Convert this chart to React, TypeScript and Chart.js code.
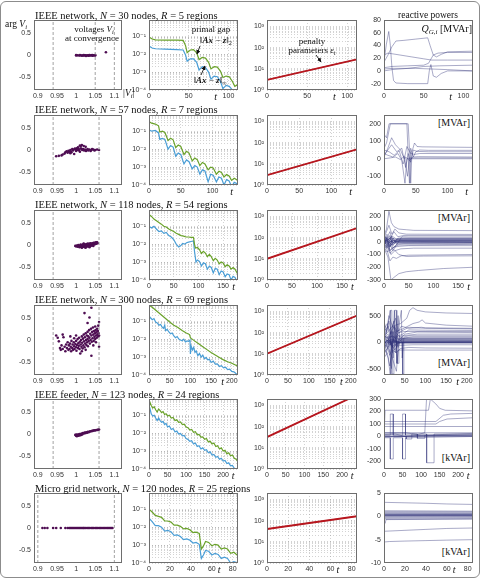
import React, { useEffect, useRef } from "react";
import { Chart, registerables } from "chart.js";

Chart.register(...registerables);

type P = [number, number];

// ---------------- data ----------------
const NETWORK = ["IEEE network", "IEEE network", "IEEE network", "IEEE network", "IEEE feeder", "Micro grid network"];
const NODES = [30, 57, 118, 300, 123, 120];
const REGIONS = [5, 7, 54, 69, 24, 25];
const UNITS = ["[MVAr]", "[MVAr]", "[MVAr]", "[MVAr]", "[kVAr]", "[kVAr]"];

const VOLT_TICKS = [0.9, 0.95, 1, 1.05, 1.1];
const ANGLE_TICKS = [-0.5, 0, 0.5];
const GAP_TICKS = [1e-4, 1e-3, 1e-2, 1e-1];
const PEN_TICKS = [1, 10, 100, 1000];
const T_TICKS = [[0, 50, 100], [0, 50, 100], [0, 50, 100, 150], [0, 50, 100, 150, 200], [0, 50, 100, 150, 200], [0, 20, 40, 60, 80]];
const T_MAX = [112, 140, 180, 215, 240, 85];
const Q_TICKS = [[-20, 0, 20, 40, 60, 80], [-100, 0, 100, 200], [-300, -200, -100, 0, 100, 200], [-500, 0, 500], [-200, -100, 0, 100, 200, 300], [-10, -5, 0, 5]];
const Q_MIN = [-30, -150, -300, -620, -260, -10];
const Q_MAX = [80, 250, 250, 700, 300, 5];
const VOLT_LIMITS = [[0.94, 1.05, 1.1], [0.94, 1.06], [0.94, 1.06], [0.94, 1.06], [0.94, 1.06], [0.9, 1.1]];

// voltages at convergence: [|V|, arg V]
const V1: P[] = [[1.0,-0.01],[1.004,-0.008],[1.008,-0.012],[1.012,-0.006],[1.015,-0.015],[1.018,-0.01],[1.02,-0.004],[1.022,-0.012],[1.025,-0.008],[1.027,-0.016],[1.03,-0.006],[1.032,-0.01],[1.035,-0.004],[1.038,-0.012],[1.04,-0.007],[1.042,-0.002],[1.045,-0.009],[1.048,-0.005],[1.05,0.0],[1.05,-0.01],[1.02,0.0],[1.026,-0.02],[1.01,-0.003],[1.033,-0.018],[1.043,-0.014],[1.0,0.0],[1.078,0.06],[1.035,0.0]];
const V2: P[] = [[0.948,-0.14],[0.955,-0.13],[0.962,-0.12],[0.965,-0.1],[0.97,-0.08],[0.972,-0.05],[0.975,-0.03],[0.978,-0.06],[0.98,-0.02],[0.982,-0.04],[0.985,0.0],[0.986,-0.03],[0.988,-0.05],[0.99,0.02],[0.992,-0.01],[0.994,0.01],[0.995,-0.09],[0.997,0.03],[1.0,-0.02],[1.0,0.01],[1.002,0.04],[1.004,0.0],[1.005,0.06],[1.007,0.02],[1.008,-0.01],[1.01,0.1],[1.012,0.08],[1.013,0.03],[1.015,0.11],[1.016,0.0],[1.018,0.02],[1.02,0.09],[1.021,-0.01],[1.023,0.01],[1.025,0.07],[1.026,-0.02],[1.028,0.0],[1.03,0.02],[1.032,-0.01],[1.035,0.01],[1.038,-0.02],[1.04,0.0],[1.042,0.02],[1.045,0.01],[1.048,-0.01],[1.05,0.0],[1.055,0.01],[1.06,0.0],[0.985,-0.07],[1.01,-0.04]];
const V3: P[] = [[0.998,-0.02],[1.0,-0.03],[1.002,-0.01],[1.004,-0.04],[1.005,-0.02],[1.006,0.0],[1.008,-0.03],[1.009,-0.05],[1.01,-0.01],[1.011,-0.03],[1.012,0.01],[1.013,-0.04],[1.014,-0.02],[1.015,0.0],[1.016,-0.05],[1.017,-0.03],[1.018,-0.01],[1.019,0.02],[1.02,-0.04],[1.021,-0.02],[1.022,0.0],[1.023,-0.05],[1.024,0.01],[1.025,-0.03],[1.026,-0.01],[1.027,0.02],[1.028,-0.04],[1.029,0.0],[1.03,-0.02],[1.031,0.03],[1.032,-0.01],[1.033,0.01],[1.034,-0.03],[1.035,0.02],[1.036,0.0],[1.037,0.04],[1.038,-0.02],[1.039,0.01],[1.04,0.03],[1.041,-0.01],[1.042,0.02],[1.043,0.04],[1.044,0.0],[1.045,0.03],[1.046,0.05],[1.047,0.01],[1.048,0.03],[1.049,0.05],[1.05,0.02],[1.051,0.04],[1.052,0.06],[1.053,0.03],[1.054,0.05],[1.055,0.06],[1.056,0.04],[1.035,-0.05],[1.025,-0.06],[1.015,-0.06],[1.045,-0.02],[1.02,0.03]];
const V4: P[] = [[0.948,0.1],[0.952,0.05],[0.955,-0.03],[0.958,-0.18],[0.96,-0.22],[0.962,-0.12],[0.965,-0.2],[0.967,0.06],[0.97,-0.15],[0.972,-0.25],[0.974,-0.1],[0.976,-0.18],[0.978,-0.05],[0.98,-0.22],[0.981,-0.12],[0.983,-0.2],[0.984,-0.08],[0.986,-0.15],[0.987,-0.25],[0.988,-0.02],[0.99,-0.18],[0.991,-0.1],[0.992,-0.22],[0.994,-0.05],[0.995,-0.14],[0.996,-0.2],[0.998,-0.09],[1.0,-0.16],[1.0,-0.02],[1.001,-0.24],[1.002,-0.11],[1.004,0.02],[1.005,-0.18],[1.006,-0.07],[1.007,-0.13],[1.008,0.05],[1.009,-0.2],[1.01,-0.04],[1.011,-0.3],[1.012,-0.1],[1.013,0.0],[1.014,-0.15],[1.015,0.08],[1.016,-0.06],[1.017,-0.19],[1.018,0.03],[1.019,-0.12],[1.02,0.12],[1.021,-0.03],[1.022,-0.16],[1.023,0.06],[1.024,-0.08],[1.025,0.15],[1.026,0.0],[1.027,-0.11],[1.028,0.1],[1.029,-0.05],[1.03,0.18],[1.03,0.02],[1.031,-0.14],[1.032,0.08],[1.033,-0.02],[1.034,0.22],[1.035,0.05],[1.036,-0.08],[1.037,0.14],[1.038,0.0],[1.039,0.25],[1.04,0.1],[1.04,-0.35],[1.041,-0.04],[1.042,0.18],[1.043,0.04],[1.044,0.28],[1.045,0.12],[1.046,-0.02],[1.047,0.2],[1.048,0.07],[1.049,0.15],[1.05,0.3],[1.05,0.02],[1.051,0.22],[1.052,0.1],[1.053,0.17],[1.054,0.05],[1.055,0.25],[1.056,0.12],[1.057,0.2],[1.058,0.08],[1.059,0.15],[1.06,0.4],[1.06,0.1],[1.06,-0.15],[1.058,0.32],[1.04,0.72],[1.022,0.6],[1.035,0.5],[1.03,0.38],[0.965,0.12],[0.985,0.08],[1.0,0.1],[1.015,-0.25],[1.025,-0.22],[0.995,0.04],[1.045,-0.12],[1.052,-0.05]];
const V5: P[] = [[0.998,-0.02],[1.0,-0.04],[1.001,-0.01],[1.002,-0.05],[1.003,-0.03],[1.004,-0.02],[1.005,-0.04],[1.006,-0.01],[1.007,-0.03],[1.008,-0.02],[1.009,0.0],[1.01,-0.03],[1.011,-0.01],[1.012,0.0],[1.013,-0.02],[1.015,0.01],[1.016,-0.01],[1.018,0.02],[1.02,0.01],[1.021,0.02],[1.023,0.03],[1.025,0.02],[1.027,0.04],[1.029,0.03],[1.031,0.05],[1.033,0.04],[1.035,0.05],[1.037,0.06],[1.04,0.06],[1.042,0.07],[1.044,0.07],[1.047,0.08],[1.05,0.08],[1.053,0.09],[1.056,0.09],[1.058,0.1],[1.06,0.1]];
const V6: P[] = [[0.912,0],[0.918,0],[0.925,0],[0.94,0],[0.948,0],[0.96,0],[0.972,0],[0.978,0],[0.982,0],[0.985,0],[0.988,0],[0.991,0],[0.994,0],[0.997,0],[1.0,0],[1.003,0],[1.006,0],[1.009,0],[1.012,0],[1.015,0],[1.018,0],[1.02,0],[1.023,0],[1.026,0],[1.03,0],[1.033,0],[1.036,0],[1.04,0],[1.043,0],[1.046,0],[1.05,0],[1.053,0],[1.056,0],[1.06,0],[1.063,0],[1.066,0],[1.07,0],[1.073,0],[1.076,0],[1.08,0],[1.083,0],[1.086,0],[1.089,0],[1.092,0],[1.095,0]];
const VOLTS = [V1, V2, V3, V4, V5, V6];

// primal gap ||Ax - z||_2 (green) and ||Ax - z||_inf (blue)
const G1: P[] = [[0,0.09],[4,0.07],[8,0.062],[20,0.06],[35,0.06],[43,0.058],[46,0.03],[48,0.012],[52,0.017],[56,0.018],[60,0.012],[63,0.005],[67,0.0065],[71,0.006],[75,0.0035],[78,0.0015],[82,0.002],[86,0.0019],[90,0.0011],[93,0.0005],[97,0.0006],[101,0.00055],[105,0.0003],[108,0.00016],[112,0.0002]];
const B1: P[] = [[0,0.028],[4,0.022],[8,0.02],[20,0.019],[35,0.018],[43,0.017],[46,0.009],[48,0.004],[52,0.0055],[56,0.0055],[60,0.0035],[63,0.0013],[67,0.002],[71,0.0018],[75,0.001],[78,0.0004],[82,0.0006],[86,0.00055],[90,0.0003],[93,0.00012],[97,0.00018],[101,0.00016],[105,0.0001],[108,0.00005],[112,0.00007]];
const G2: P[] = [[0,0.35],[4,0.28],[10,0.25],[15,0.2],[17,0.09],[21,0.1],[25,0.085],[30,0.03],[34,0.04],[38,0.033],[42,0.012],[46,0.017],[50,0.014],[55,0.005],[59,0.0075],[63,0.006],[68,0.0022],[72,0.0032],[76,0.0026],[80,0.0012],[84,0.0018],[88,0.0015],[93,0.0007],[97,0.001],[101,0.0009],[106,0.0004],[110,0.00058],[114,0.0005],[118,0.00028],[122,0.00038],[126,0.00032],[130,0.00018],[134,0.00024],[138,0.0002],[140,0.00016]];
const B2: P[] = [[0,0.12],[4,0.1],[10,0.11],[15,0.08],[17,0.035],[21,0.04],[25,0.035],[30,0.01],[34,0.016],[38,0.013],[42,0.004],[46,0.006],[50,0.005],[55,0.0015],[59,0.0025],[63,0.002],[68,0.0008],[72,0.0012],[76,0.001],[80,0.0004],[84,0.0007],[88,0.0006],[93,0.00015],[97,0.0004],[101,0.00035],[106,0.00015],[110,0.00028],[114,0.00024],[118,0.0001],[122,0.0002],[126,0.00017],[130,0.00008],[134,0.00014],[138,0.00012],[140,0.0001]];
const G3: P[] = [[0,0.45],[5,0.35],[10,0.25],[15,0.2],[20,0.16],[25,0.13],[30,0.1],[35,0.09],[40,0.07],[45,0.06],[50,0.05],[55,0.04],[60,0.035],[65,0.03],[70,0.028],[75,0.025],[80,0.025],[85,0.024],[90,0.024],[92,0.01],[94,0.006],[98,0.0065],[102,0.005],[106,0.003],[110,0.004],[114,0.0032],[118,0.002],[122,0.0027],[126,0.002],[130,0.0012],[134,0.0016],[138,0.0013],[142,0.0008],[146,0.001],[150,0.0009],[154,0.00055],[158,0.0007],[162,0.0006],[166,0.0004],[170,0.0005],[174,0.0004],[178,0.00025],[180,0.0003]];
const B3: P[] = [[0,0.1],[5,0.08],[10,0.1],[15,0.07],[20,0.05],[25,0.055],[30,0.04],[35,0.045],[40,0.03],[45,0.025],[50,0.018],[55,0.01],[60,0.007],[64,0.008],[68,0.011],[72,0.01],[76,0.012],[80,0.013],[85,0.014],[90,0.015],[92,0.004],[95,0.001],[98,0.0013],[102,0.0011],[106,0.0006],[110,0.0009],[114,0.0008],[118,0.0004],[122,0.0006],[126,0.0005],[130,0.00025],[134,0.00045],[138,0.0004],[142,0.0002],[146,0.00032],[150,0.00028],[154,0.00015],[158,0.00022],[162,0.0002],[166,0.0001],[170,0.00016],[174,0.00014],[178,0.00008],[180,0.0001]];
const G4: P[] = [[0,0.8],[10,0.55],[20,0.35],[30,0.22],[40,0.14],[50,0.09],[60,0.06],[70,0.045],[80,0.03],[90,0.022],[98,0.018],[100,0.012],[102,0.011],[110,0.008],[120,0.0055],[130,0.0038],[140,0.0026],[150,0.0018],[160,0.0013],[170,0.00095],[180,0.0007],[190,0.00055],[200,0.00045],[210,0.00035],[215,0.0003]];
const B4: P[] = [[0,0.2],[4,0.15],[8,0.12],[12,0.14],[16,0.09],[20,0.08],[24,0.06],[28,0.065],[32,0.045],[35,0.04],[38,0.06],[40,0.03],[44,0.035],[48,0.025],[52,0.02],[56,0.022],[60,0.015],[64,0.012],[68,0.014],[72,0.01],[76,0.009],[80,0.008],[84,0.01],[88,0.007],[92,0.008],[96,0.0075],[99,0.009],[100,0.0015],[102,0.004],[105,0.0025],[108,0.0035],[111,0.0018],[114,0.0022],[118,0.0012],[122,0.0016],[126,0.001],[130,0.0013],[134,0.0008],[138,0.00095],[142,0.0007],[146,0.00075],[150,0.0005],[155,0.0006],[160,0.0004],[165,0.00042],[170,0.0003],[175,0.00033],[180,0.00025],[185,0.00027],[190,0.0002],[195,0.00021],[200,0.00016],[205,0.00015],[210,0.00012],[215,0.0001]];
const G5: P[] = [[0,0.3],[3,0.5],[6,0.35],[10,0.25],[14,0.3],[18,0.2],[22,0.15],[26,0.22],[30,0.18],[34,0.14],[38,0.16],[42,0.11],[46,0.12],[50,0.09],[55,0.1],[60,0.07],[65,0.075],[70,0.05],[75,0.055],[80,0.04],[85,0.042],[90,0.03],[95,0.032],[100,0.022],[105,0.02],[110,0.015],[115,0.016],[120,0.011],[125,0.012],[130,0.008],[135,0.0085],[140,0.006],[145,0.0062],[150,0.0045],[155,0.005],[160,0.0032],[165,0.0035],[170,0.0025],[175,0.0028],[180,0.0018],[185,0.002],[190,0.0013],[195,0.0015],[200,0.001],[205,0.0011],[210,0.0007],[215,0.0008],[220,0.00055],[225,0.0006],[230,0.0004],[235,0.00035],[240,0.00025]];
const B5: P[] = [[0,0.15],[3,0.22],[6,0.12],[10,0.09],[14,0.1],[18,0.07],[22,0.05],[26,0.07],[30,0.05],[34,0.04],[38,0.045],[42,0.03],[46,0.035],[50,0.022],[55,0.025],[60,0.016],[65,0.018],[70,0.012],[75,0.013],[80,0.009],[85,0.0095],[90,0.007],[95,0.0075],[100,0.005],[105,0.0045],[110,0.0035],[115,0.0038],[120,0.0025],[125,0.0028],[130,0.0018],[135,0.002],[140,0.0013],[145,0.0015],[150,0.0011],[155,0.0012],[160,0.0008],[165,0.0009],[170,0.0006],[175,0.00065],[180,0.00045],[185,0.0005],[190,0.00035],[195,0.0004],[200,0.00028],[205,0.0003],[210,0.0002],[215,0.00022],[220,0.00015],[225,0.00016],[230,0.00011],[235,0.0001],[240,0.00008]];
const G6: P[] = [[0,0.1],[3,0.07],[6,0.045],[9,0.04],[12,0.035],[15,0.022],[18,0.022],[21,0.019],[24,0.013],[27,0.013],[30,0.011],[33,0.008],[36,0.0085],[39,0.0072],[42,0.005],[45,0.0052],[48,0.0045],[50,0.0006],[52,0.0009],[54,0.0016],[57,0.0014],[60,0.0009],[63,0.0011],[66,0.001],[69,0.0006],[72,0.0007],[75,0.0006],[78,0.00035],[81,0.0004],[85,0.00025]];
const B6: P[] = [[0,0.032],[3,0.02],[6,0.012],[9,0.012],[12,0.01],[15,0.006],[18,0.0065],[21,0.0055],[24,0.0035],[27,0.0037],[30,0.003],[33,0.002],[36,0.0022],[39,0.0019],[42,0.0013],[45,0.0014],[48,0.0011],[50,0.00018],[52,0.00028],[54,0.0005],[57,0.00045],[60,0.00028],[63,0.00034],[66,0.0003],[69,0.00018],[72,0.00021],[75,0.00018],[78,0.0001],[81,0.00012],[85,0.0001]];
const GAP2 = [G1, G2, G3, G4, G5, G6];
const GAPINF = [B1, B2, B3, B4, B5, B6];

// penalty parameters eps_t
const E1: P[] = [[0,3],[112,28]];
const E2: P[] = [[0,2.9],[140,48]];
const E3: P[] = [[0,10],[180,280]];
const E4: P[] = [[0,10],[215,630]];
const E5: P[] = [[0,32],[235,2800]];
const E6: P[] = [[0,40],[85,160]];
const PENALTY = [E1, E2, E3, E4, E5, E6];

// reactive powers Q_G,i
const Q1: P[][] = [
  [[0,15],[3,42],[6,62],[8,40],[10,5],[12,-15],[15,-19],[30,-20],[55,-20],[57,0],[59,10],[62,-8],[66,-10],[72,-4],[80,0],[112,0]],
  [[0,14],[5,25],[10,38],[15,47],[25,48],[40,50],[55,52],[58,40],[62,25],[66,22],[72,26],[80,30],[112,31]],
  [[0,25],[5,28],[10,27],[20,25],[35,22],[50,19],[60,17],[80,17],[112,17]],
  [[0,5],[10,7],[30,8],[50,9],[56,12],[62,25],[68,28],[80,29],[112,29]],
  [[0,0],[10,2],[30,4],[50,7],[70,8],[112,9]],
  [[0,3],[10,4],[40,4],[60,3],[80,2],[112,0]],
];
const Q2: P[][] = [
  [[0,140],[4,120],[8,200],[38,200],[40,60],[42,-140],[44,40],[48,90],[52,70],[60,68],[140,65]],
  [[0,60],[4,90],[10,200],[36,200],[38,20],[40,-140],[42,60],[46,10],[50,40],[56,50],[70,48],[140,48]],
  [[0,20],[6,50],[12,80],[20,40],[28,60],[34,-50],[38,30],[42,-20],[46,50],[52,42],[70,40],[140,40]],
  [[0,10],[6,60],[12,120],[18,80],[26,50],[32,0],[36,70],[42,30],[48,25],[56,30],[140,30]],
  [[0,50],[8,40],[16,20],[24,45],[30,-30],[34,10],[40,-10],[46,10],[54,12],[140,10]],
  [[0,30],[6,20],[14,10],[22,30],[28,-10],[33,-140],[36,0],[42,5],[50,5],[140,5]],
  [[0,0],[10,5],[18,10],[26,-5],[32,15],[37,-100],[40,0],[48,0],[140,0]],
];
const Q3: P[][] = [
  [[0,50],[5,100],[10,240],[15,150],[20,120],[30,100],[45,95],[60,90],[180,88]],
  [[0,-50],[8,-120],[14,-300],[20,-280],[30,-250],[45,-235],[70,-225],[120,-210],[180,-200]],
  [[0,0],[6,-60],[12,-150],[18,-120],[25,-130],[35,-110],[50,-105],[180,-100]],
  [[0,20],[6,-30],[12,-90],[20,-60],[30,-100],[45,-115],[80,-112],[180,-110]],
  [[0,30],[5,80],[10,130],[16,60],[22,100],[30,70],[45,60],[180,58]],
  [[0,10],[6,60],[12,20],[20,80],[28,40],[40,50],[180,50]],
  [[0,-20],[6,40],[12,-40],[18,30],[26,-20],[36,40],[50,38],[180,38]],
  [[0,60],[5,20],[10,-20],[15,40],[22,10],[30,30],[180,30]],
  [[0,-10],[6,30],[12,80],[18,-10],[26,20],[40,22],[180,22]],
  [[0,40],[6,0],[12,50],[18,-30],[26,15],[40,15],[180,15]],
  [[0,-30],[5,10],[10,-60],[16,20],[24,0],[34,10],[180,10]],
  [[0,0],[6,-20],[12,30],[18,-10],[26,5],[180,5]],
  [[0,15],[6,-10],[12,-40],[20,0],[30,2],[180,0]],
  [[0,-5],[5,20],[10,0],[16,-25],[24,-5],[180,-3]],
  [[0,25],[6,-40],[12,10],[18,-50],[28,-10],[180,-8]],
  [[0,-15],[6,-50],[12,-20],[18,-70],[26,-20],[40,-15],[180,-15]],
  [[0,5],[6,30],[12,-70],[20,-40],[30,-25],[180,-20]],
  [[0,-40],[6,-80],[14,-60],[22,-40],[32,-35],[50,-30],[180,-30]],
  [[0,-60],[8,-20],[14,-100],[22,-70],[34,-55],[60,-50],[180,-50]],
  [[0,10],[4,5],[8,20],[14,0],[20,12],[180,12]],
  [[0,20],[5,40],[10,10],[16,30],[24,20],[180,20]],
  [[0,-10],[6,10],[12,-15],[18,5],[180,-2]],
  [[0,35],[8,15],[16,45],[24,25],[180,25]],
  [[0,0],[4,15],[10,-5],[16,8],[180,6]],
  [[0,-25],[6,0],[12,-30],[18,-8],[180,-6]],
];
const Q4: P[][] = [
  [[0,100],[10,200],[20,300],[40,350],[55,450],[62,600],[70,650],[80,600],[100,570],[150,550],[215,540]],
  [[0,50],[8,250],[15,600],[17,-600],[20,300],[30,200],[45,250],[70,350],[85,380],[92,420],[100,360],[150,320],[215,300]],
  [[0,200],[10,300],[20,-200],[25,600],[28,100],[40,200],[60,280],[100,260],[215,250]],
  [[0,-100],[10,-300],[15,-600],[18,0],[30,100],[45,150],[60,230],[100,225],[215,220]],
  [[0,300],[5,150],[12,400],[20,100],[30,-100],[34,500],[38,50],[50,150],[80,190],[215,180]],
  [[0,0],[10,100],[20,-100],[26,300],[32,-400],[36,100],[45,120],[80,150],[215,150]],
  [[0,150],[8,0],[16,200],[22,-300],[27,200],[40,80],[60,120],[215,120]],
  [[0,-50],[10,50],[18,-500],[22,200],[30,0],[42,600],[44,-300],[48,80],[70,100],[215,100]],
  [[0,100],[6,-200],[14,100],[24,400],[29,-50],[36,60],[60,80],[215,80]],
  [[0,0],[12,-100],[20,200],[28,-200],[33,0],[45,60],[215,60]],
  [[0,50],[8,100],[16,-50],[25,100],[34,-100],[40,40],[215,40]],
  [[0,-150],[6,-50],[14,-250],[22,0],[30,100],[40,20],[215,20]],
  [[0,20],[10,-50],[20,50],[30,-20],[38,0],[215,0]],
  [[0,80],[10,150],[18,-20],[24,50],[32,-30],[42,10],[215,10]],
  [[0,-20],[8,-100],[16,-30],[26,-150],[35,-20],[215,-20]],
  [[0,0],[12,50],[22,-100],[30,-50],[40,-60],[70,-50],[215,-50]],
  [[0,-300],[8,-200],[14,-450],[20,-150],[30,-200],[40,-120],[60,-100],[100,-110],[215,-115]],
  [[0,-200],[10,-100],[20,-300],[30,-550],[34,-150],[45,-150],[215,-150]],
  [[0,400],[6,200],[12,500],[20,300],[28,450],[34,200],[42,300],[60,260],[90,280],[100,270],[215,260]],
  [[0,250],[8,350],[16,150],[24,300],[34,180],[50,200],[215,200]],
  [[0,30],[6,-30],[12,30],[18,-40],[26,30],[36,-10],[215,-5]],
  [[0,60],[10,20],[20,60],[30,10],[40,30],[215,30]],
  [[0,-80],[10,-20],[20,-80],[30,-30],[40,-10],[215,-10]],
  [[0,120],[10,60],[20,120],[30,60],[50,70],[215,70]],
  [[0,-40],[8,40],[16,-40],[28,20],[40,5],[215,5]],
  [[0,10],[10,-10],[20,15],[30,-5],[215,0]],
  [[0,0],[15,0],[16,600],[19,600],[20,-600],[23,-600],[24,0],[44,0],[45,-600],[47,-600],[48,0],[215,0]],
  [[0,100],[25,100],[26,600],[30,600],[31,-400],[35,-400],[36,50],[215,45]],
];
const Q5: P[][] = [
  [[0,0],[3,210],[120,210],[125,300]],
  [[0,30],[110,30],[115,320],[125,300],[140,260],[150,225],[165,210],[240,205]],
  [[0,100],[140,100],[150,120],[170,140],[240,150]],
  [[0,120],[140,120],[160,170],[180,180],[240,185]],
  [[0,80],[240,80]],
  [[0,10],[17,10],[17,180],[25,180],[25,10],[50,10],[50,180],[58,180],[58,10],[240,10]],
  [[0,-10],[17,-10],[17,-180],[25,-180],[25,-10],[50,-10],[50,-180],[58,-180],[58,-10],[240,0]],
  [[0,20],[115,20],[115,-210],[135,-210],[135,20],[240,20]],
  [[0,5],[240,5]],
  [[0,30],[60,30],[70,25],[90,15],[110,30],[240,30]],
  [[0,-5],[240,15]],
  [[0,15],[30,20],[60,0],[100,10],[240,25]],
  [[0,0],[240,0]],
  [[0,0],[60,0],[60,-20],[75,-20],[75,20],[90,20],[90,-15],[110,-15],[110,10],[240,10]],
];
const Q6: P[][] = [
  [[0,3],[20,2.9],[40,2.8],[60,2.65],[85,2.55]],
  [[0,-3.2],[20,-3],[40,-2.8],[60,-2.6],[85,-2.5]],
  [[0,-5.5],[5,-5.4],[20,-5.3],[40,-5.2],[60,-5.1],[85,-5.0]],
  [[0,1.2],[85,1.1]],
  [[0,1],[85,0.95]],
  [[0,0.8],[85,0.75]],
  [[0,0.6],[85,0.6]],
  [[0,0.45],[85,0.45]],
  [[0,0.3],[85,0.3]],
  [[0,0.2],[85,0.2]],
  [[0,0.1],[85,0.12]],
  [[0,0],[85,0.05]],
  [[0,-0.2],[85,-0.1]],
  [[0,-0.4],[85,-0.3]],
  [[0,-0.6],[85,-0.5]],
  [[0,-0.8],[1,-1.5],[2,-0.7],[85,-0.6]],
  [[0,0.35],[85,0.35]],
  [[0,0.25],[85,0.28]],
];
const QPOW = [Q1, Q2, Q3, Q4, Q5, Q6];

// ---------------- layout & style ----------------
const ROW_TOP = [20, 115, 210, 305, 399, 493];
const PLOT_H = 70;
const COL_LEFT = [34, 149, 267, 384];
const COL_W = [88, 89, 90, 89];
const TITLE_Y = [15, 109, 204, 299, 394, 488];
const T_LABEL_AT = [84, 130, 171, 178, 227, 67];
const UNIT_Y = [0, 123, 218, 363, 458, 552];

const YW = 30, PT = 6, PR = 10, XH = 14;
const TICK_FONT = { family: "'Liberation Sans', 'DejaVu Sans', sans-serif", size: 7 };
const SERIF = "'Liberation Serif', 'DejaVu Serif', serif";
const AXIS_COLOR = "#6e6e6e";
const GRID_COLOR = "rgba(140,140,140,0.55)";
const GREEN = "#6aa22a";
const BLUE = "#4a9ed6";
const PURPLE = "#4e0d52";
const RED = "#b8161e";
const QCOL = "rgba(42,46,118,0.5)";

const SUPS: Record<string, string> = { "-": "⁻", "0": "⁰", "1": "¹", "2": "²", "3": "³", "4": "⁴", "5": "⁵", "6": "⁶", "7": "⁷", "8": "⁸", "9": "⁹" };
const pow10 = (v: number) => "10" + String(Math.round(Math.log10(v))).split("").map((c) => SUPS[c]).join("");
const fmt = (v: number) => String(v);

function withMinors(majors: number[], max: number) {
  const out: number[] = [];
  majors.forEach((m) => {
    for (let k = 1; k <= 9; k++) {
      const v = m * k;
      if (v <= max * 1.0001) out.push(v);
    }
  });
  return out;
}

function scale(axis: "x" | "y", type: string, min: number, max: number, ticks: number[], labels: (v: number) => string, grid: boolean) {
  return {
    type,
    min,
    max,
    afterBuildTicks: (s: any) => {
      s.ticks = ticks.map((v) => ({ value: v }));
    },
    afterFit: (s: any) => {
      if (axis === "x") s.height = XH;
      else s.width = YW;
      s.paddingLeft = 0;
      s.paddingRight = 0;
      s.paddingTop = 0;
      s.paddingBottom = 0;
    },
    ticks: {
      font: TICK_FONT,
      color: "#333",
      padding: axis === "x" ? 2 : 3,
      autoSkip: false,
      maxRotation: 0,
      minRotation: 0,
      callback: (v: any) => labels(Number(v)),
    },
    grid: { display: grid, drawOnChartArea: true, drawTicks: false, color: GRID_COLOR, lineWidth: 0.7 },
    border: { display: false, dash: [1, 2] },
  };
}

const boxPlugin = {
  id: "box",
  afterDatasetsDraw(chart: any) {
    const { ctx, chartArea: a } = chart;
    ctx.save();
    ctx.strokeStyle = AXIS_COLOR;
    ctx.lineWidth = 1;
    ctx.strokeRect(Math.round(a.left) + 0.5, Math.round(a.top) + 0.5, Math.round(a.right - a.left) - 1, Math.round(a.bottom - a.top) - 1);
    ctx.restore();
  },
};

function baseOptions(xs: any, ys: any) {
  return {
    animation: false,
    responsive: false,
    events: [],
    layout: { padding: { top: PT, right: PR, left: 0, bottom: 0 } },
    plugins: { legend: { display: false }, tooltip: { enabled: false } },
    scales: { x: xs, y: ys },
  };
}

const toXY = (a: P[]) => a.map(([x, y]) => ({ x, y }));

function voltCfg(r: number): any {
  const ds: any[] = VOLT_LIMITS[r].map((v) => ({
    type: "line",
    data: [{ x: v, y: -0.78 }, { x: v, y: 0.78 }],
    borderColor: "#8a8a8a",
    borderWidth: 0.8,
    borderDash: [3, 2],
    pointRadius: 0,
    showLine: true,
  }));
  ds.push({ type: "scatter", data: toXY(VOLTS[r]), pointRadius: 1.3, pointBackgroundColor: PURPLE, pointBorderWidth: 0, backgroundColor: PURPLE });
  return {
    type: "scatter",
    data: { datasets: ds },
    options: baseOptions(scale("x", "linear", 0.89, 1.12, VOLT_TICKS, fmt, false), scale("y", "linear", -0.78, 0.78, ANGLE_TICKS, fmt, false)),
    plugins: [boxPlugin],
  };
}

function gapCfg(r: number): any {
  const yt = withMinors(GAP_TICKS, 0.8);
  return {
    type: "line",
    data: {
      datasets: [
        { data: toXY(GAP2[r]), borderColor: GREEN, borderWidth: 1.2, pointRadius: 0, tension: 0 },
        { data: toXY(GAPINF[r]), borderColor: BLUE, borderWidth: 1.2, pointRadius: 0, tension: 0 },
      ],
    },
    options: baseOptions(
      scale("x", "linear", 0, T_MAX[r], T_TICKS[r], fmt, true),
      scale("y", "logarithmic", 1e-4, 0.8, yt, (v) => (GAP_TICKS.includes(v) ? pow10(v) : ""), true)
    ),
    plugins: [boxPlugin],
  };
}

function penCfg(r: number): any {
  const yt = withMinors(PEN_TICKS, 2000);
  return {
    type: "line",
    data: {
      datasets: [
        { data: toXY(PENALTY[r]), borderColor: RED, borderWidth: 1.8, pointRadius: 0 },
        { data: toXY(PENALTY[r]), borderColor: "#3a0808", borderWidth: 0.6, pointRadius: 0 },
      ],
    },
    options: baseOptions(
      scale("x", "linear", 0, T_MAX[r], T_TICKS[r], fmt, true),
      scale("y", "logarithmic", 1, 2000, yt, (v) => (PEN_TICKS.includes(v) ? pow10(v) : ""), true)
    ),
    plugins: [boxPlugin],
  };
}

function qCfg(r: number): any {
  return {
    type: "line",
    data: {
      datasets: QPOW[r].map((line) => ({ data: toXY(line), borderColor: QCOL, borderWidth: 0.8, pointRadius: 0, tension: 0 })),
    },
    options: baseOptions(
      scale("x", "linear", 0, T_MAX[r], T_TICKS[r], fmt, false),
      scale("y", "linear", Q_MIN[r], Q_MAX[r], Q_TICKS[r], fmt, false)
    ),
    plugins: [boxPlugin],
  };
}

function Panel({ x, y, w, h, make }: { x: number; y: number; w: number; h: number; make: () => any }) {
  const ref = useRef<HTMLCanvasElement>(null);
  useEffect(() => {
    const chart = new Chart(ref.current as HTMLCanvasElement, make());
    return () => chart.destroy();
  }, []);
  const W = YW + w + PR;
  const H = PT + h + XH;
  return <canvas ref={ref} width={W} height={H} style={{ position: "absolute", left: x - YW, top: y - PT, width: W, height: H }} />;
}

function Txt({ x, y, size = 10, align = "left", children, style }: { x: number; y: number; size?: number; align?: string; children: any; style?: any }) {
  const lh = Math.round(size * 1.2);
  const tr = align === "center" ? "translateX(-50%)" : align === "right" ? "translateX(-100%)" : "none";
  return (
    <div
      style={{
        position: "absolute",
        left: x,
        top: y - lh / 2,
        lineHeight: lh + "px",
        fontSize: size,
        fontFamily: SERIF,
        whiteSpace: "nowrap",
        transform: tr,
        color: "#111",
        ...style,
      }}
    >
      {children}
    </div>
  );
}

const subSt = { fontSize: "70%", verticalAlign: "-0.3em", lineHeight: 0 };
const Sub = ({ children }: { children: any }) => <span style={subSt}>{children}</span>;
const BI = ({ children }: { children: any }) => <b><i>{children}</i></b>;

export default function App() {
  const rows = [0, 1, 2, 3, 4, 5];
  const makers = [voltCfg, gapCfg, penCfg, qCfg];
  return (
    <div style={{ position: "absolute", left: 0, top: 0, width: 485, height: 580, background: "#fff", overflow: "hidden", fontFamily: SERIF }}>
      <div style={{ position: "absolute", left: 0, top: 1, width: 480, height: 577, border: "1px solid #8c8c8c", borderRadius: 6, boxSizing: "border-box" }} />
      {rows.map((r) =>
        makers.map((mk, c) => (
          <Panel key={r + "-" + c} x={COL_LEFT[c]} y={ROW_TOP[r]} w={COL_W[c]} h={PLOT_H} make={() => mk(r)} />
        ))
      )}
      {rows.map((r) => (
        <Txt key={"title" + r} x={35} y={TITLE_Y[r]} size={10.5}>
          {NETWORK[r]}, <i>N</i> = {NODES[r]} nodes, <i>R</i> = {REGIONS[r]} regions
        </Txt>
      ))}
      {rows.map((r) =>
        [1, 2, 3].map((c) => (
          <Txt key={"t" + r + c} x={COL_LEFT[c] + (T_LABEL_AT[r] / T_MAX[r]) * COL_W[c]} y={ROW_TOP[r] + PLOT_H + 7} size={10} align="center">
            <i>t</i>
          </Txt>
        ))
      )}
      {rows.slice(1).map((r) => (
        <Txt key={"u" + r} x={471} y={UNIT_Y[r]} size={10} align="right" style={{ background: "#fff", padding: "0 1px" }}>
          {UNITS[r]}
        </Txt>
      ))}
      {/* row 1 annotations */}
      <Txt x={5} y={24} size={9.5}>arg <i>V</i><Sub><i>i</i></Sub></Txt>
      <Txt x={123} y={93} size={9.5}>|<i>V</i><Sub><i>i</i></Sub>|</Txt>
      <Txt x={94} y={29} size={9} align="center">voltages <i>V</i><Sub><i>i</i></Sub></Txt>
      <Txt x={92} y={38} size={9} align="center">at convergence</Txt>
      <Txt x={211} y={29} size={9} align="center">primal gap</Txt>
      <Txt x={216} y={40} size={9} align="center">‖<BI>Ax</BI> − <BI>z</BI>‖<Sub>2</Sub></Txt>
      <Txt x={210} y={80} size={9} align="center">‖<BI>Ax</BI> − <BI>z</BI>‖<Sub>∞</Sub></Txt>
      <Txt x={428} y={15} size={9.5} align="center">reactive powers</Txt>
      <Txt x={472} y={29} size={10} align="right"><i>Q</i><Sub><i>G,i</i></Sub> [MVAr]</Txt>
      <Txt x={312} y={41} size={9} align="center">penalty</Txt>
      <Txt x={312} y={50} size={9} align="center">parameters <i>ε</i><Sub><i>t</i></Sub></Txt>
      <svg width={485} height={580} style={{ position: "absolute", left: 0, top: 0, pointerEvents: "none" }}>
        <defs>
          <marker id="ah" viewBox="0 0 10 10" refX="9" refY="5" markerWidth="5" markerHeight="5" orient="auto">
            <path d="M0,0 L10,5 L0,10 z" fill="#111" />
          </marker>
        </defs>
        <line x1={200} y1={46} x2={197} y2={54} stroke="#111" strokeWidth={0.9} markerEnd="url(#ah)" />
        <line x1={201} y1={75} x2={205} y2={66} stroke="#111" strokeWidth={0.9} markerEnd="url(#ah)" />
        <line x1={316} y1={55} x2={321} y2={62} stroke="#111" strokeWidth={0.9} markerEnd="url(#ah)" />
      </svg>
    </div>
  );
}
